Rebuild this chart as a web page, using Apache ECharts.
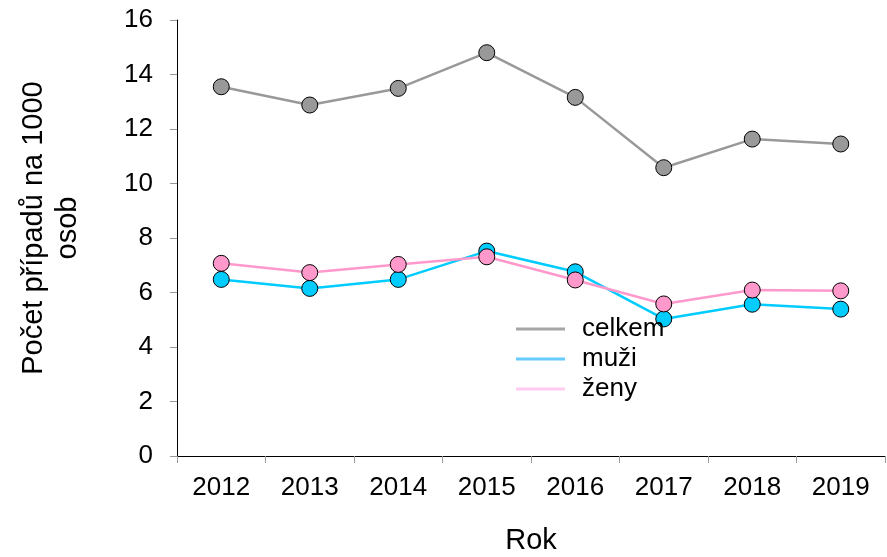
<!DOCTYPE html>
<html lang="cs">
<head>
    <meta charset="UTF-8">
    <title>Počet případů na 1000 osob</title>
    <script src="https://cdn.jsdelivr.net/npm/echarts@6/dist/echarts.min.js"></script>
    <style>
        html, body { margin: 0; padding: 0; background: #fff; }
    </style>
</head>
<body>
<div id="main" style="width:887px;height:557px;"></div>
<script>
    // data
    let years = ['2012', '2013', '2014', '2015', '2016', '2017', '2018', '2019'];
    let celkem = [13.55, 12.88, 13.49, 14.80, 13.16, 10.58, 11.63, 11.45];
    let muzi = [6.48, 6.15, 6.48, 7.52, 6.76, 5.03, 5.57, 5.39];
    let zeny = [7.07, 6.73, 7.03, 7.31, 6.46, 5.58, 6.09, 6.06];

    let myChart = echarts.init(document.getElementById('main'));
    let font = 'Liberation Sans, Arial, sans-serif';

    function lineSeries(name, data, color) {
        return {
            name: name,
            type: 'line',
            data: data,
            symbol: 'circle',
            symbolSize: 16,
            lineStyle: {color: color, width: 2.5},
            itemStyle: {color: color, borderColor: '#000', borderWidth: 1},
            emphasis: {disabled: true}
        };
    }

    let option = {
        animation: false,
        textStyle: {fontFamily: font},
        grid: {left: 177, right: 2, top: 20, bottom: 101, containLabel: false, outerBoundsMode: 'none'},
        legend: {
            orient: 'vertical',
            left: 516,
            top: 316,
            padding: 0,
            itemWidth: 49,
            itemHeight: 3,
            itemGap: 4,
            icon: 'rect',
            textStyle: {fontSize: 26, color: '#000', fontFamily: font, padding: [0, 0, 0, 12]},
            data: [
                {name: 'celkem', itemStyle: {color: '#a6a6a6', borderWidth: 0}},
                {name: 'muži', itemStyle: {color: '#66ccff', borderWidth: 0}},
                {name: 'ženy', itemStyle: {color: '#ffccf0', borderWidth: 0}}
            ]
        },
        xAxis: {
            type: 'category',
            data: years,
            boundaryGap: true,
            name: 'Rok',
            nameLocation: 'middle',
            nameGap: 70,
            nameTextStyle: {fontSize: 29, color: '#000', fontFamily: font},
            axisLine: {lineStyle: {color: '#000', width: 1}},
            axisTick: {show: true, length: 7, lineStyle: {color: '#999'}},
            axisLabel: {fontSize: 26, color: '#000', margin: 19, fontFamily: font},
            splitLine: {show: false}
        },
        yAxis: {
            type: 'value',
            min: 0,
            max: 16,
            interval: 2,
            name: 'Počet případů na 1000\nosob',
            nameLocation: 'middle',
            nameGap: 92,
            nameTextStyle: {fontSize: 29, color: '#000', fontFamily: font, lineHeight: 34, padding: [0, 0, 0, 20]},
            axisLine: {show: true, lineStyle: {color: '#000', width: 1}},
            axisTick: {show: true, length: 7, lineStyle: {color: '#999'}},
            axisLabel: {fontSize: 26, color: '#000', margin: 24, fontFamily: font},
            splitLine: {show: false}
        },
        series: [
            lineSeries('celkem', celkem, '#999999'),
            lineSeries('muži', muzi, '#00ccff'),
            lineSeries('ženy', zeny, '#ff99cc')
        ]
    };

    myChart.setOption(option);
</script>
</body>
</html>
